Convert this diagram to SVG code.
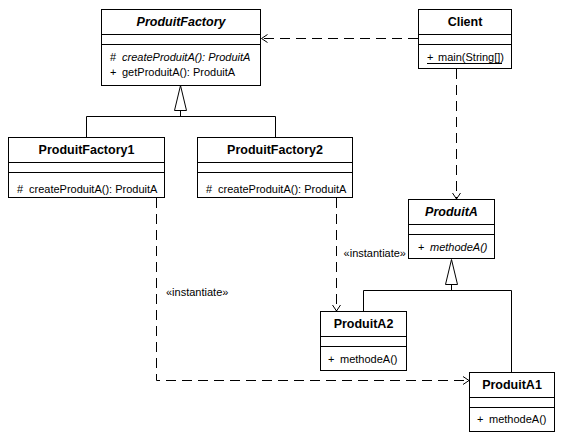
<svg xmlns="http://www.w3.org/2000/svg" width="563" height="438" viewBox="0 0 563 438">
<style>
.box{fill:#fff;stroke:#000;stroke-width:1}
.ln{fill:none;stroke:#000;stroke-width:1}
.dash{fill:none;stroke:#000;stroke-width:1;stroke-dasharray:10,6}
.tri{fill:#fff;stroke:#000;stroke-width:1}
.t{font-family:"Liberation Sans",Arial,sans-serif;font-size:11px;fill:#000}
.title{font-family:"Liberation Sans",Arial,sans-serif;font-size:12.5px;font-weight:bold;fill:#000;text-anchor:middle}
.it{font-style:italic}
</style>
<defs>
<marker id="open" viewBox="0 0 7 10" refX="6.5" refY="5" markerWidth="7" markerHeight="10" markerUnits="userSpaceOnUse" orient="auto">
<path d="M0.5,1 L6.5,5 L0.5,9" fill="none" stroke="#000" stroke-width="1"/>
</marker>
</defs>
<rect width="563" height="438" fill="#fff"/>

<g id="connectors">
<path class="dash" d="M418,38.5 H261.5" marker-end="url(#open)"/>
<path class="dash" d="M456.5,69 V199" marker-end="url(#open)"/>
<path class="dash" d="M156.5,198 V380.5 H469" marker-end="url(#open)"/>
<path class="dash" d="M336.5,198 V311" marker-end="url(#open)"/>
<path class="ln" d="M180.5,110 V116.5 M86.5,137 V116.5 H275.5 V137"/>
<polygon class="tri" points="180.5,85.5 174.5,110.5 186.5,110.5"/>
<path class="ln" d="M451.5,284 V290.5 M363.5,311 V290.5 H511.5 V372"/>
<polygon class="tri" points="451.5,259.5 445.5,284.5 457.5,284.5"/>
<text class="t" x="406" y="257" text-anchor="end">«instantiate»</text>
<text class="t" x="166" y="296">«instantiate»</text>
</g>

<g id="ProduitFactory">
<rect class="box" x="101.5" y="9.5" width="159" height="76"/>
<path class="ln" d="M101.5,34.5 H260.5 M101.5,44.5 H260.5"/>
<text class="title it" x="181" y="26">ProduitFactory</text>
<text class="t" x="110" y="61">#</text>
<text class="t it" x="122" y="61">createProduitA(): ProduitA</text>
<text class="t" x="110" y="76">+</text>
<text class="t" x="122" y="76">getProduitA(): ProduitA</text>
</g>

<g id="Client">
<rect class="box" x="418.5" y="9.5" width="93" height="59"/>
<path class="ln" d="M418.5,34.5 H511.5 M418.5,44.5 H511.5"/>
<text class="title" x="465" y="26">Client</text>
<text class="t" x="427" y="61">+</text>
<text class="t" x="438" y="61">main(String[])</text>
<path class="ln" d="M427,63.5 H502"/>
</g>

<g id="ProduitFactory1">
<rect class="box" x="8.5" y="137.5" width="156" height="60"/>
<path class="ln" d="M8.5,162.5 H164.5 M8.5,172.5 H164.5"/>
<text class="title" x="86.5" y="154">ProduitFactory1</text>
<text class="t" x="17" y="193">#</text>
<text class="t" x="29" y="193">createProduitA(): ProduitA</text>
</g>

<g id="ProduitFactory2">
<rect class="box" x="197.5" y="137.5" width="155" height="60"/>
<path class="ln" d="M197.5,162.5 H352.5 M197.5,172.5 H352.5"/>
<text class="title" x="275" y="154">ProduitFactory2</text>
<text class="t" x="206" y="193">#</text>
<text class="t" x="218" y="193">createProduitA(): ProduitA</text>
</g>

<g id="ProduitA">
<rect class="box" x="408.5" y="199.5" width="86" height="59"/>
<path class="ln" d="M408.5,224.5 H494.5 M408.5,234.5 H494.5"/>
<text class="title it" x="451.5" y="216">ProduitA</text>
<text class="t" x="418" y="251">+</text>
<text class="t it" x="430" y="251">methodeA()</text>
</g>

<g id="ProduitA2">
<rect class="box" x="320.5" y="311.5" width="86" height="59"/>
<path class="ln" d="M320.5,336.5 H406.5 M320.5,346.5 H406.5"/>
<text class="title" x="363.5" y="328">ProduitA2</text>
<text class="t" x="328" y="363">+</text>
<text class="t" x="340" y="363">methodeA()</text>
</g>

<g id="ProduitA1">
<rect class="box" x="469.5" y="372.5" width="85" height="59"/>
<path class="ln" d="M469.5,397.5 H554.5 M469.5,407.5 H554.5"/>
<text class="title" x="512" y="389">ProduitA1</text>
<text class="t" x="477" y="423">+</text>
<text class="t" x="489" y="423">methodeA()</text>
</g>
</svg>
